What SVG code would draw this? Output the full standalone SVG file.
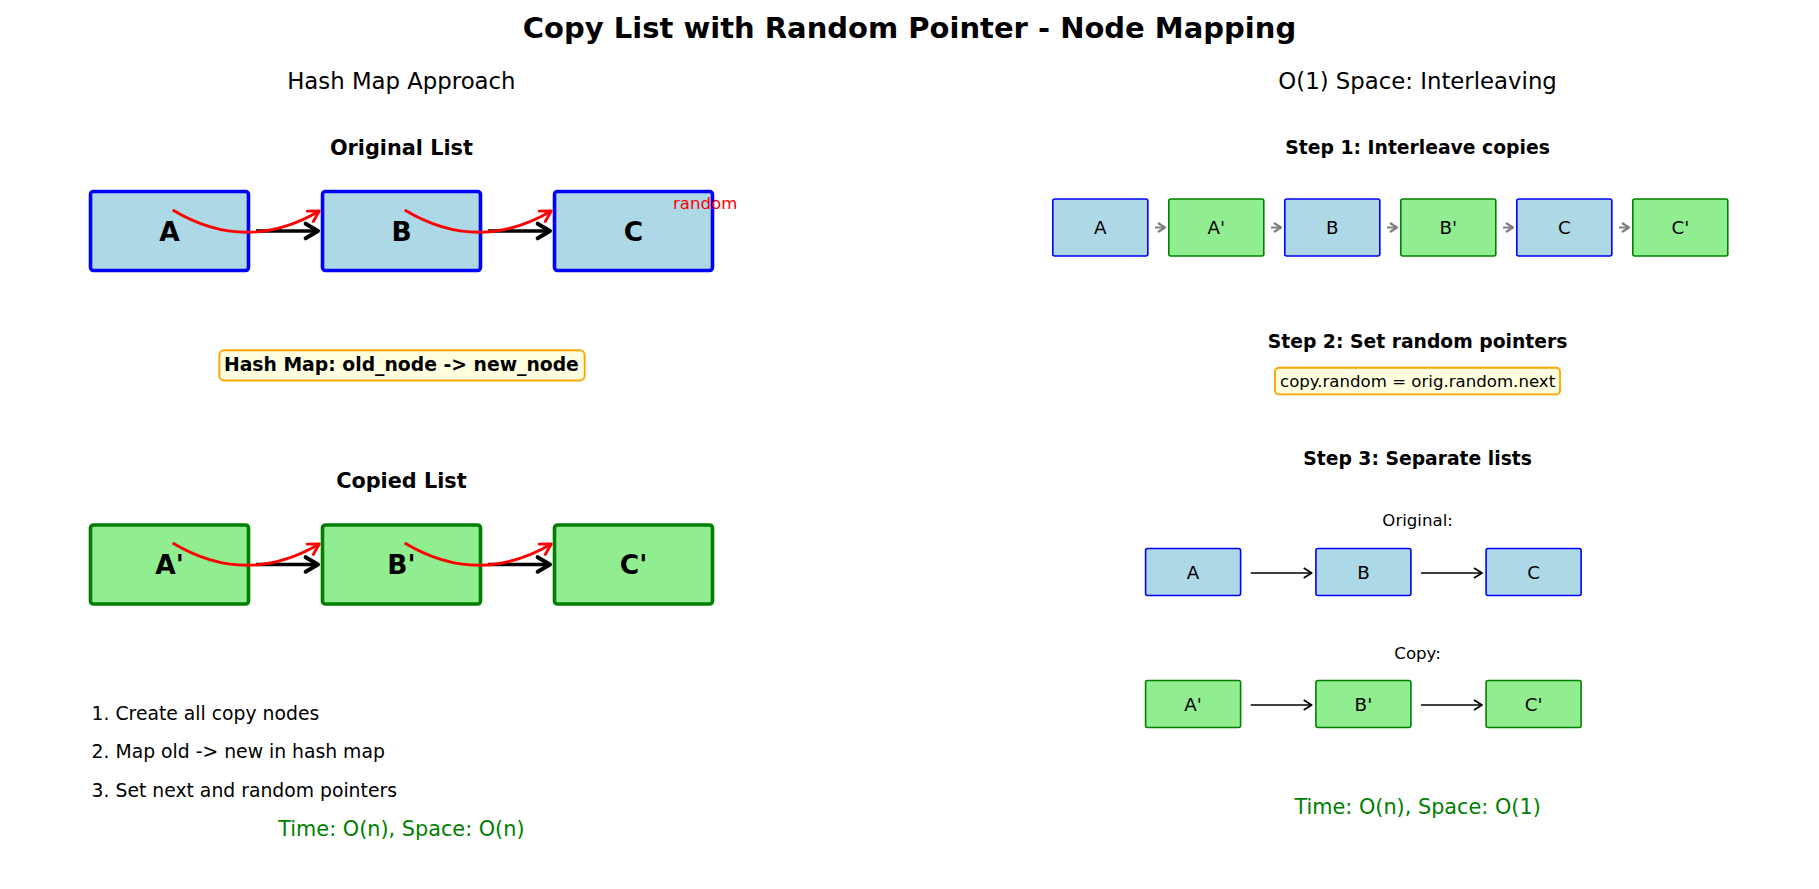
<svg xmlns="http://www.w3.org/2000/svg" width="1819" height="889" viewBox="0 0 1819 889">
<defs>
<style>
text{font-family:"DejaVu Sans","Liberation Sans",sans-serif;fill:#000}
.title{font-size:29px;font-weight:bold}
.sub{font-size:22.8px}
.hd{font-size:20.8px;font-weight:bold}
.sh{font-size:18.75px;font-weight:bold}
.big{font-size:26.5px;font-weight:bold}
.sm{font-size:18.3px}
.note{font-size:16.6px}
.step{font-size:18.8px}
.time{font-size:20.8px;fill:#008000}
.orig{fill:#ADD8E6;stroke:#0000FF}
.copy{fill:#90EE90;stroke:#008000}
.thick{stroke-width:3.6}
.thin{stroke-width:1.6}
.next{stroke:#000;stroke-width:3.5;fill:none}
.rand{stroke:#FF0000;stroke-width:2.8;fill:none}
.gray{stroke:#808080;stroke-width:2;fill:none}
.blk{stroke:#000;stroke-width:1.7;fill:none}
.hm{fill:#FFFFE0;stroke:#FFA500;stroke-width:1.9}
</style>
<marker id="hBlack" markerUnits="userSpaceOnUse" markerWidth="18" markerHeight="18" refX="12" refY="7" orient="auto" viewBox="0 0 16 14" overflow="visible">
<path d="M1,0.5 L12,7 L1,13.5" fill="none" stroke="#000" stroke-width="3.5" stroke-linejoin="round" stroke-linecap="round"/>
</marker>
<marker id="hRed" markerUnits="userSpaceOnUse" markerWidth="16" markerHeight="16" refX="11" refY="6.5" orient="auto" viewBox="0 0 16 13" overflow="visible">
<path d="M0.5,0.5 L11,6.5 L0.5,12.5" fill="none" stroke="#FF0000" stroke-width="2.8" stroke-linejoin="round" stroke-linecap="round"/>
</marker>
<marker id="hGray" markerUnits="userSpaceOnUse" markerWidth="12" markerHeight="12" refX="7.5" refY="5" orient="auto" viewBox="0 0 12 10" overflow="visible">
<path d="M0.5,0.5 L7.5,5 L0.5,9.5" fill="none" stroke="#808080" stroke-width="2.2" stroke-linejoin="round"/>
</marker>
<marker id="hThin" markerUnits="userSpaceOnUse" markerWidth="12" markerHeight="12" refX="8.5" refY="5.5" orient="auto" viewBox="0 0 12 11" overflow="visible">
<path d="M0.5,0.5 L8.5,5.5 L0.5,10.5" fill="none" stroke="#000" stroke-width="1.7" stroke-linejoin="round"/>
</marker>
</defs>
<rect width="1819" height="889" fill="#FFFFFF"/>

<text class="title" x="909.5" y="38" text-anchor="middle">Copy List with Random Pointer - Node Mapping</text>

<!-- Left panel -->
<text class="sub" x="401.4" y="89" text-anchor="middle">Hash Map Approach</text>
<text class="hd" x="401.4" y="154.5" text-anchor="middle">Original List</text>

<g id="nodeA"><rect class="orig thick" x="90.5" y="191.5" width="158" height="79" rx="3"/><text class="big" x="169.5" y="240.5" text-anchor="middle">A</text></g>
<g id="nodeB"><rect class="orig thick" x="322.5" y="191.5" width="158" height="79" rx="3"/><text class="big" x="401.5" y="240.5" text-anchor="middle">B</text></g>
<g id="nodeC"><rect class="orig thick" x="554.5" y="191.5" width="158" height="79" rx="3"/><text class="big" x="633.5" y="240.5" text-anchor="middle">C</text></g>

<g id="hashmap"><rect class="hm" x="219.3" y="350.3" width="365.4" height="30.2" rx="5"/><text x="401.4" y="371" text-anchor="middle" style="font-size:18.8px;font-weight:bold">Hash Map: old_node -&gt; new_node</text></g>

<text class="hd" x="401.4" y="487.5" text-anchor="middle">Copied List</text>

<g id="nodeA2"><rect class="copy thick" x="90.5" y="525" width="158" height="79" rx="3"/><text class="big" x="169.5" y="574" text-anchor="middle">A'</text></g>
<g id="nodeB2"><rect class="copy thick" x="322.5" y="525" width="158" height="79" rx="3"/><text class="big" x="401.5" y="574" text-anchor="middle">B'</text></g>
<g id="nodeC2"><rect class="copy thick" x="554.5" y="525" width="158" height="79" rx="3"/><text class="big" x="633.5" y="574" text-anchor="middle">C'</text></g>

<g id="connectors-left">
<line class="next" x1="256" y1="231" x2="318" y2="231" marker-end="url(#hBlack)"/>
<line class="next" x1="488" y1="231" x2="550" y2="231" marker-end="url(#hBlack)"/>
<path class="rand" d="M172.7,210 Q246,254 319.3,211" marker-end="url(#hRed)"/>
<path class="rand" d="M404.7,210 Q478,254 551.3,211" marker-end="url(#hRed)"/>
<line class="next" x1="256" y1="564.5" x2="318" y2="564.5" marker-end="url(#hBlack)"/>
<line class="next" x1="488" y1="564.5" x2="550" y2="564.5" marker-end="url(#hBlack)"/>
<path class="rand" d="M172.7,543 Q246,587 319.3,544" marker-end="url(#hRed)"/>
<path class="rand" d="M404.7,543 Q478,587 551.3,544" marker-end="url(#hRed)"/>
</g>
<text x="673" y="208.5" style="font-size:16.6px;fill:#FF0000">random</text>

<text class="step" x="91.6" y="720">1. Create all copy nodes</text>
<text class="step" x="91.6" y="758">2. Map old -&gt; new in hash map</text>
<text class="step" x="91.6" y="796.5">3. Set next and random pointers</text>
<text class="time" x="401.4" y="835.5" text-anchor="middle">Time: O(n), Space: O(n)</text>

<!-- Right panel -->
<text class="sub" x="1417.6" y="89" text-anchor="middle">O(1) Space: Interleaving</text>
<text class="sh" x="1417.6" y="154" text-anchor="middle">Step 1: Interleave copies</text>

<g id="iA"><rect class="orig thin" x="1052.8" y="199" width="95" height="57" rx="2"/><text class="sm" x="1100.3" y="234" text-anchor="middle">A</text></g>
<g id="iA2"><rect class="copy thin" x="1168.8" y="199" width="95" height="57" rx="2"/><text class="sm" x="1216.3" y="234" text-anchor="middle">A'</text></g>
<g id="iB"><rect class="orig thin" x="1284.8" y="199" width="95" height="57" rx="2"/><text class="sm" x="1332.3" y="234" text-anchor="middle">B</text></g>
<g id="iB2"><rect class="copy thin" x="1400.8" y="199" width="95" height="57" rx="2"/><text class="sm" x="1448.3" y="234" text-anchor="middle">B'</text></g>
<g id="iC"><rect class="orig thin" x="1516.8" y="199" width="95" height="57" rx="2"/><text class="sm" x="1564.3" y="234" text-anchor="middle">C</text></g>
<g id="iC2"><rect class="copy thin" x="1632.8" y="199" width="95" height="57" rx="2"/><text class="sm" x="1680.3" y="234" text-anchor="middle">C'</text></g>

<g id="connectors-interleave">
<line class="gray" x1="1155" y1="227.5" x2="1165" y2="227.5" marker-end="url(#hGray)"/>
<line class="gray" x1="1271" y1="227.5" x2="1281" y2="227.5" marker-end="url(#hGray)"/>
<line class="gray" x1="1387" y1="227.5" x2="1397" y2="227.5" marker-end="url(#hGray)"/>
<line class="gray" x1="1503" y1="227.5" x2="1513" y2="227.5" marker-end="url(#hGray)"/>
<line class="gray" x1="1619" y1="227.5" x2="1629" y2="227.5" marker-end="url(#hGray)"/>
</g>

<text class="sh" x="1417.6" y="347.8" text-anchor="middle">Step 2: Set random pointers</text>
<g id="formula"><rect class="hm" x="1275" y="367.7" width="285" height="26.7" rx="4"/><text class="note" x="1417.6" y="386.5" text-anchor="middle">copy.random = orig.random.next</text></g>

<text class="sh" x="1417.6" y="464.8" text-anchor="middle">Step 3: Separate lists</text>
<text class="note" x="1417.6" y="526.2" text-anchor="middle">Original:</text>

<g id="sA"><rect class="orig thin" x="1145.6" y="548.5" width="95" height="47" rx="2"/><text class="sm" x="1193.1" y="579" text-anchor="middle">A</text></g>
<g id="sB"><rect class="orig thin" x="1315.9" y="548.5" width="95" height="47" rx="2"/><text class="sm" x="1363.4" y="579" text-anchor="middle">B</text></g>
<g id="sC"><rect class="orig thin" x="1486.1" y="548.5" width="95" height="47" rx="2"/><text class="sm" x="1533.6" y="579" text-anchor="middle">C</text></g>

<text class="note" x="1417.6" y="658.5" text-anchor="middle">Copy:</text>

<g id="sA2"><rect class="copy thin" x="1145.6" y="680.5" width="95" height="47" rx="2"/><text class="sm" x="1193.1" y="711" text-anchor="middle">A'</text></g>
<g id="sB2"><rect class="copy thin" x="1315.9" y="680.5" width="95" height="47" rx="2"/><text class="sm" x="1363.4" y="711" text-anchor="middle">B'</text></g>
<g id="sC2"><rect class="copy thin" x="1486.1" y="680.5" width="95" height="47" rx="2"/><text class="sm" x="1533.6" y="711" text-anchor="middle">C'</text></g>

<g id="connectors-separate">
<line class="blk" x1="1250.7" y1="573" x2="1311.7" y2="573" marker-end="url(#hThin)"/>
<line class="blk" x1="1421" y1="573" x2="1482" y2="573" marker-end="url(#hThin)"/>
<line class="blk" x1="1250.7" y1="705" x2="1311.7" y2="705" marker-end="url(#hThin)"/>
<line class="blk" x1="1421" y1="705" x2="1482" y2="705" marker-end="url(#hThin)"/>
</g>

<text class="time" x="1417.6" y="814" text-anchor="middle">Time: O(n), Space: O(1)</text>
</svg>
